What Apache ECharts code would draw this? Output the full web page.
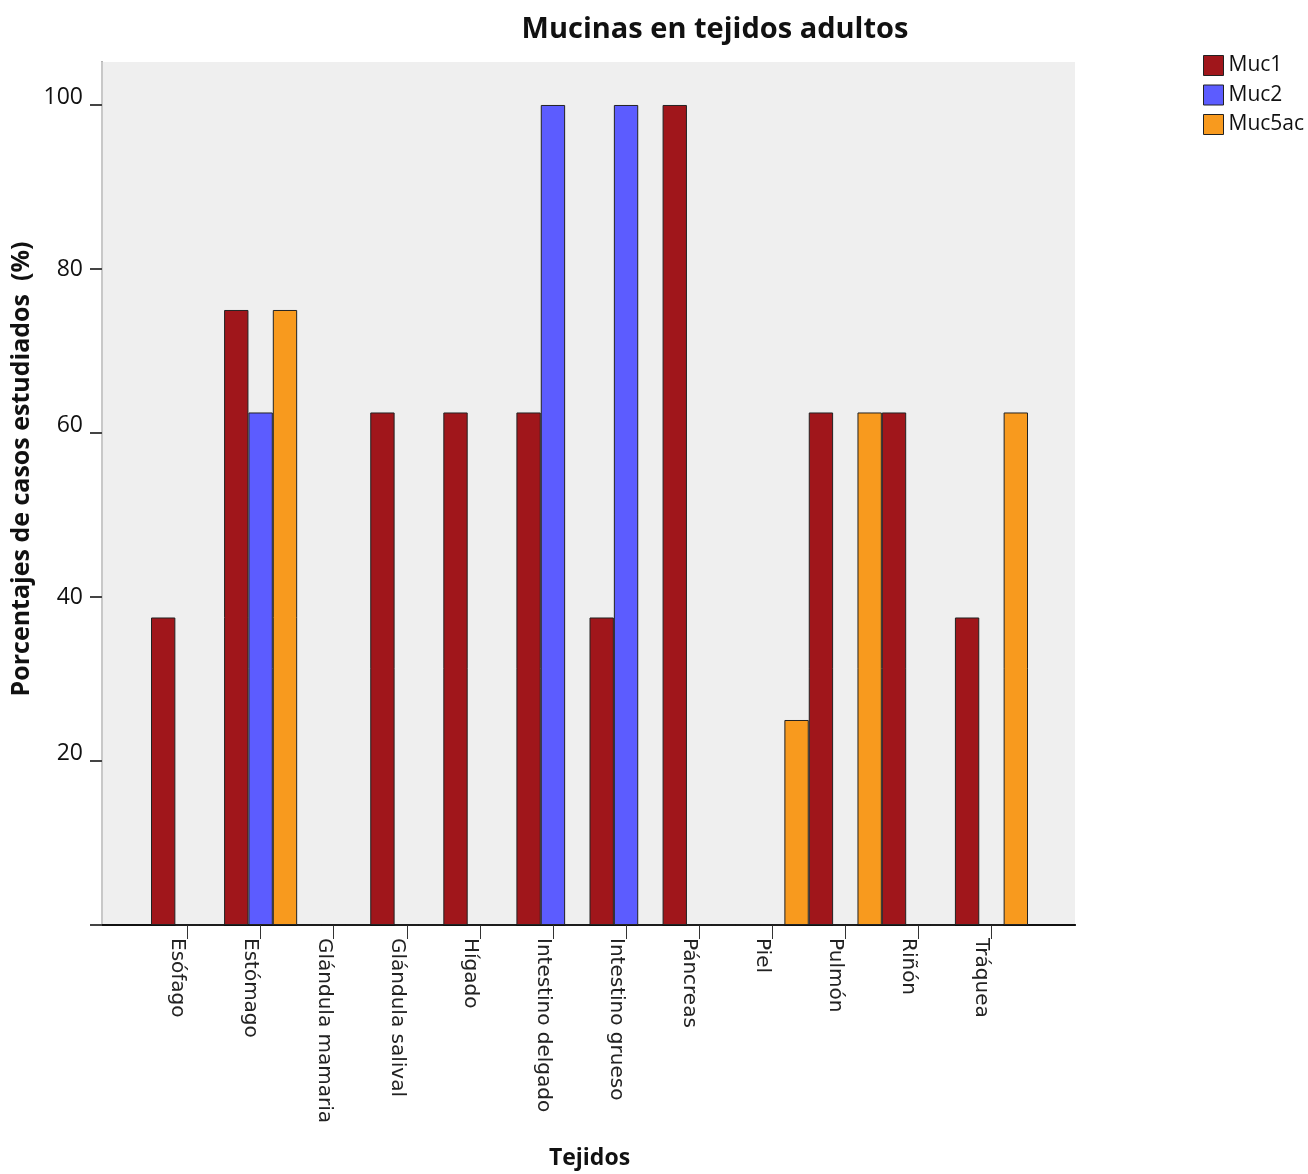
<!DOCTYPE html>
<html>
<head>
<meta charset="utf-8">
<script src="https://cdn.jsdelivr.net/npm/echarts@6/dist/echarts.min.js"></script>
<style>html,body{margin:0;padding:0;background:#fff;}#c{width:1308px;height:1174px;}</style>
</head>
<body>
<div id="c"></div>
<script>
const categories = ["Esófago", "Estómago", "Glándula mamaria", "Glándula salival", "Hígado", "Intestino delgado", "Intestino grueso", "Páncreas", "Piel", "Pulmón", "Riñón", "Tráquea"];
const muc1 = [37.5, 75, 0, 62.5, 62.5, 62.5, 37.5, 100, 0, 62.5, 62.5, 37.5];
const muc2 = [0, 62.5, 0, 0, 0, 100, 100, 0, 0, 0, 0, 0];
const muc5ac = [0, 75, 0, 0, 0, 0, 0, 0, 25, 62.5, 0, 62.5];
const yTicks = [0, 20, 40, 60, 80, 100];
const yLabels = [20, 40, 60, 80, 100];
const yMax = 105.24;

const chart = echarts.init(document.getElementById('c'), null, {renderer: 'canvas'});
const FONT = '"Open Sans", "DejaVu Sans", sans-serif';
const CATFONT = '"DejaVu Sans", sans-serif';
const colors = ['#a0161b', '#5c5cff', '#f89a1e'];

function barSeries(name, data, color) {
  return {
    name: name, type: 'bar', data: data, xAxisIndex: 2, yAxisIndex: 2,
    barGap: '0%', barCategoryGap: '0%',
    itemStyle: {color: color, borderColor: '#222', borderWidth: 1},
    emphasis: {disabled: true}
  };
}

chart.setOption({
  animation: false,
  title: {
    text: 'Mucinas en tejidos adultos', left: 710, top: 10, textAlign: 'center',
    textStyle: {fontFamily: FONT, fontWeight: 'bold', fontSize: 29, color: '#111'}
  },
  legend: {
    orient: 'vertical', left: 1203, top: 55, padding: 0, itemWidth: 20, itemHeight: 20, itemGap: 8.5,
    icon: 'rect',
    textStyle: {fontFamily: FONT, fontSize: 21, color: '#111'},
    itemStyle: {borderColor: '#222', borderWidth: 1},
    data: ['Muc1', 'Muc2', 'Muc5ac']
  },
  grid: [
    {left: 102, top: 62, width: 973, height: 863, show: true, backgroundColor: '#efefef', borderWidth: 0, outerBoundsMode: 'none', containLabel: false},
    {left: 151, top: 62, width: 877, height: 863, outerBoundsMode: 'none', containLabel: false}
  ],
  xAxis: [
    {gridIndex: 0, type: 'value', position: 'top', min: 0, max: 1,
     axisLine: {show: true, lineStyle: {color: '#555', width: 2}}, axisTick: {show: false}, axisLabel: {show: false}, splitLine: {show: false}},
    {gridIndex: 0, type: 'value', position: 'bottom', min: 0, max: 1,
     axisLine: {show: true, lineStyle: {color: '#111', width: 2}}, axisTick: {show: false}, axisLabel: {show: false}, splitLine: {show: false}},
    {gridIndex: 1, type: 'category', data: categories, position: 'bottom',
     axisLine: {show: false},
     axisTick: {show: true, alignWithLabel: true, length: 14, lineStyle: {color: '#333', width: 1}},
     axisLabel: {interval: 0, rotate: -90, fontFamily: CATFONT, fontSize: 20, color: '#222', margin: 13, verticalAlign: 'top'},
     name: 'Tejidos', nameLocation: 'middle', nameGap: 222,
     nameTextStyle: {fontFamily: FONT, fontWeight: 'bold', fontSize: 23, color: '#111'}}
  ],
  yAxis: [
    {gridIndex: 0, type: 'value', position: 'left', min: 0, max: yMax,
     axisLine: {show: true, lineStyle: {color: '#555', width: 2}},
     axisTick: {show: true, length: 12, customValues: yTicks, lineStyle: {color: '#444', width: 2}},
     axisLabel: {customValues: yLabels, margin: 19, verticalAlign: 'middle',
       formatter: function (v) { return (v === 80 || v === 40) ? '{m|' + v + '}' : '{b|' + v + '}'; },
       rich: {
         m: {fontFamily: FONT, fontSize: 23, color: '#111'},
         b: {fontFamily: FONT, fontSize: 23, color: '#111', padding: [0, 0, 16, 0]}
       }},
     splitLine: {show: false}},
    {gridIndex: 0, type: 'value', position: 'right', min: 0, max: yMax,
     axisLine: {show: true, lineStyle: {color: '#c8c8c8', width: 2}}, axisTick: {show: false}, axisLabel: {show: false}, splitLine: {show: false}},
    {gridIndex: 1, type: 'value', min: 0, max: yMax, show: false}
  ],
  graphic: [
    {type: 'text', x: 22, y: 469, rotation: Math.PI / 2,
     style: {text: 'Porcentajes de casos estudiados  (%)', font: 'bold 25px ' + FONT, fill: '#111', textAlign: 'center', textVerticalAlign: 'middle'}}
  ],
  series: [
    barSeries('Muc1', muc1, colors[0]),
    barSeries('Muc2', muc2, colors[1]),
    barSeries('Muc5ac', muc5ac, colors[2])
  ]
});
</script>
</body>
</html>
